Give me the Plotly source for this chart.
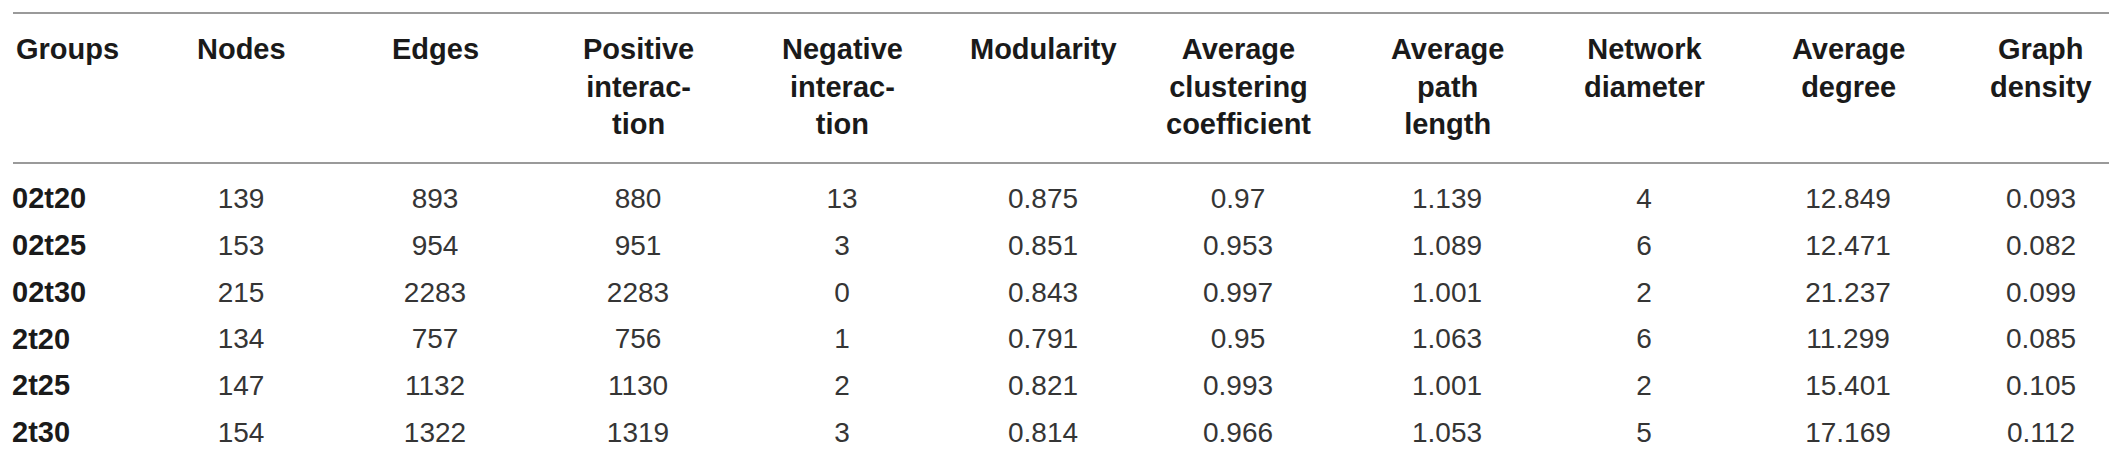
import plotly.graph_objects as go

# table data
groups = ["02t20", "02t25", "02t30", "2t20", "2t25", "2t30"]
nodes = [139, 153, 215, 134, 147, 154]
edges = [893, 954, 2283, 757, 1132, 1322]
positive = [880, 951, 2283, 756, 1130, 1319]
negative = [13, 3, 0, 1, 2, 3]
modularity = [0.875, 0.851, 0.843, 0.791, 0.821, 0.814]
clustering = [0.97, 0.953, 0.997, 0.95, 0.993, 0.966]
path_length = [1.139, 1.089, 1.001, 1.063, 1.001, 1.053]
diameter = [4, 6, 2, 6, 2, 5]
degree = [12.849, 12.471, 21.237, 11.299, 15.401, 17.169]
density = [0.093, 0.082, 0.099, 0.085, 0.105, 0.112]

headers = ["Groups", "Nodes", "Edges", "Positive<br>interac-<br>tion",
           "Negative<br>interac-<br>tion", "Modularity",
           "Average<br>clustering<br>coefficient", "Average<br>path<br>length",
           "Network<br>diameter", "Average<br>degree", "Graph<br>density"]

columns = [nodes, edges, positive, negative, modularity, clustering,
           path_length, diameter, degree, density]

# layout: column centres in pixels (x axis runs 0..W)
W, H = 2117, 469
col_x = [233, 427, 630, 834, 1035, 1230, 1439, 1636, 1840, 2033]
group_x = 4

FONT = "Liberation Sans"
body_font = dict(family=FONT, size=28, color="#353535")
head_font = dict(family=FONT, size=29, color="#1a1a1a", weight="bold")

fig = go.Figure()

fig.add_trace(go.Scatter(
    x=[group_x] * len(groups), y=groups, mode="text",
    text=groups, textposition="middle right",
    textfont=head_font, hoverinfo="skip"))

for cx, vals in zip(col_x, columns):
    fig.add_trace(go.Scatter(
        x=[cx] * len(vals), y=groups, mode="text",
        text=[str(v) for v in vals], textposition="middle center",
        textfont=body_font, hoverinfo="skip"))

# header cells
head_top = 1 - 23 / H
for i, h in enumerate(headers):
    if i == 0:
        fig.add_annotation(x=group_x + 2, y=head_top, xref="x", yref="paper",
                           text=h, showarrow=False, xanchor="left",
                           yanchor="top", align="left", font=head_font)
    else:
        fig.add_annotation(x=col_x[i - 1], y=head_top, xref="x", yref="paper",
                           text=h, showarrow=False, xanchor="center",
                           yanchor="top", align="center", font=head_font)

# horizontal rules
for ypx in [5, 155, 463]:
    fig.add_shape(type="line", xref="paper", yref="paper",
                  x0=5 / W, x1=2112 / W, y0=1 - ypx / H, y1=1 - ypx / H,
                  line=dict(color="#9a9a9a", width=2))

# row 0 at 193px from top, 46.8px per row
row0, step = 193.0, 46.8
fig.update_layout(
    width=W, height=H,
    margin=dict(l=0, r=0, t=0, b=0),
    paper_bgcolor="white", plot_bgcolor="white",
    showlegend=False,
    xaxis=dict(range=[0, W], visible=False, fixedrange=True),
    yaxis=dict(type="category", categoryorder="array", categoryarray=groups,
               range=[(H - row0) / step, -row0 / step],
               visible=False, fixedrange=True),
)

fig.write_html("out.html")
